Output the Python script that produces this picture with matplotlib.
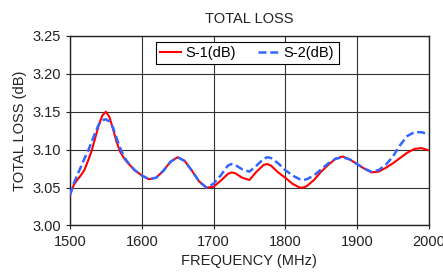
import matplotlib
matplotlib.use("Agg")
import matplotlib.pyplot as plt

plt.rcParams['font.family'] = ['Liberation Sans', 'DejaVu Sans']

freq = [1500, 1505, 1510, 1515, 1520, 1525, 1530, 1535, 1540, 1545,
        1550, 1555, 1560, 1565, 1570, 1575, 1580, 1590, 1600, 1610,
        1620, 1630, 1640, 1650, 1660, 1670, 1680, 1690, 1700, 1710,
        1720, 1725, 1730, 1740, 1750, 1760, 1770, 1775, 1780, 1790,
        1800, 1810, 1820, 1825, 1830, 1840, 1850, 1860, 1870, 1880,
        1890, 1900, 1910, 1920, 1930, 1940, 1950, 1960, 1970, 1980,
        1990, 2000]
s1 = [3.040, 3.053, 3.060, 3.066, 3.073, 3.085, 3.098, 3.115, 3.132, 3.145,
      3.150, 3.143, 3.127, 3.110, 3.097, 3.089, 3.083, 3.073, 3.066, 3.061,
      3.063, 3.072, 3.084, 3.090, 3.085, 3.072, 3.058, 3.050, 3.051, 3.059,
      3.068, 3.070, 3.069, 3.063, 3.060, 3.071, 3.080, 3.081, 3.079, 3.070,
      3.063, 3.055, 3.050, 3.050, 3.052, 3.060, 3.071, 3.080, 3.088, 3.091,
      3.087, 3.081, 3.075, 3.070, 3.071, 3.076, 3.082, 3.089, 3.096, 3.101,
      3.102, 3.099]
s2 = [3.040, 3.055, 3.066, 3.077, 3.088, 3.098, 3.110, 3.122, 3.133, 3.139,
      3.140, 3.137, 3.129, 3.115, 3.102, 3.091, 3.084, 3.073, 3.066, 3.061,
      3.063, 3.072, 3.084, 3.090, 3.085, 3.072, 3.058, 3.050, 3.055, 3.066,
      3.079, 3.081, 3.080, 3.074, 3.071, 3.079, 3.088, 3.090, 3.089, 3.082,
      3.073, 3.066, 3.061, 3.060, 3.061, 3.066, 3.074, 3.082, 3.088, 3.090,
      3.087, 3.081, 3.075, 3.071, 3.073, 3.080, 3.091, 3.106, 3.118, 3.123,
      3.123, 3.120]

xticks = [1500, 1600, 1700, 1800, 1900, 2000]
yticks = [3.00, 3.05, 3.10, 3.15, 3.20, 3.25]

fig = plt.figure(figsize=(4.43, 2.76), dpi=100)
ax = fig.add_axes([0.158, 0.183, 0.810, 0.687])

ax.plot(freq, s1, color='#ff0000', lw=1.5, label='S-1(dB)', zorder=3)
ax.plot(freq, s2, color='#3366ff', lw=1.8, ls=(0, (3.2, 1.5)), label='S-2(dB)', zorder=4)

ax.set_xlim(1500, 2000)
ax.set_ylim(3.00, 3.25)
ax.set_xticks(xticks)
ax.set_yticks(yticks)
ax.set_yticklabels([f"{v:.2f}" for v in yticks])
ax.grid(True, color='#333333', lw=0.8)
ax.tick_params(axis='both', labelsize=10.5, direction='out', length=3, color='#222222',
               labelcolor='#222222')
for s in ax.spines.values():
    s.set_color('#222222')
    s.set_linewidth(1.0)

ax.set_title('TOTAL LOSS', fontsize=10.5, pad=9, color='#222222')
ax.set_xlabel('FREQUENCY (MHz)', fontsize=10.5, color='#222222', labelpad=4)
ax.set_ylabel('TOTAL LOSS (dB)', fontsize=10.5, color='#222222', labelpad=4)

leg = ax.legend(loc='upper center', bbox_to_anchor=(0.494, 0.97), ncol=2, fontsize=10.5,
                frameon=True, fancybox=False, edgecolor='black', framealpha=1,
                handlelength=1.45, columnspacing=1.5, borderpad=0.3, handletextpad=0.3,
                borderaxespad=0.0)
leg.get_frame().set_linewidth(0.8)

fig.savefig('out.png', dpi=100)
